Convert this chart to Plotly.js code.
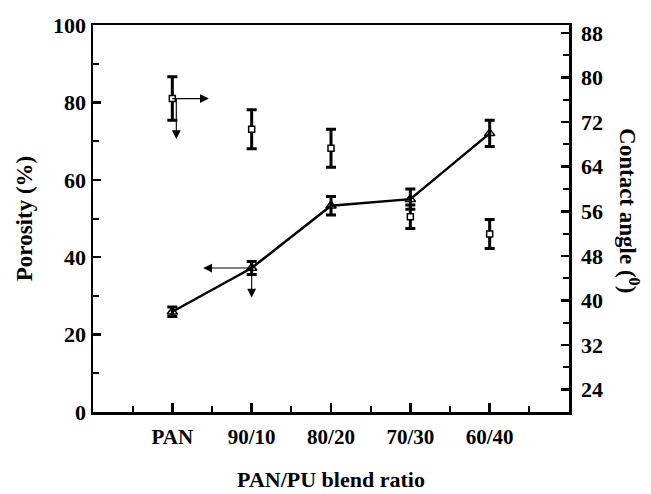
<!DOCTYPE html>
<html>
<head>
<meta charset="utf-8">
<script src="https://cdn.plot.ly/plotly-3.0.1.min.js"></script>
<style>html,body{margin:0;padding:0;background:#fff;}#chart{width:651px;height:494px;}</style>
</head>
<body>
<div id="chart"></div>
<script>
const categories = ["PAN", "90/10", "80/20", "70/30", "60/40"];
const porosity = [25.9, 37.2, 53.3, 55.0, 72.0];
const porosityErr = [1.2, 1.7, 2.4, 2.6, 3.4];
const contactAngle = [76.2, 70.7, 67.3, 55.0, 51.9];
const contactAngleErr = [3.9, 3.5, 3.4, 2.1, 2.6];
const leftTicks = [0, 20, 40, 60, 80, 100];
const rightTicks = [24, 32, 40, 48, 56, 64, 72, 80, 88];

const xIdx = categories.map((c, i) => i);
const F = "Liberation Serif, Times New Roman, serif";

const traces = [
  {
    x: xIdx, y: porosity, type: "scatter", mode: "lines+markers",
    line: {color: "#000", width: 2.5},
    marker: {symbol: "triangle-up-open", size: 9, color: "#000", line: {width: 1.5, color: "#000"}},
    error_y: {type: "data", array: porosityErr, visible: true, color: "#000", thickness: 3, width: 5},
    yaxis: "y", showlegend: false, hoverinfo: "none"
  },
  {
    x: xIdx, y: contactAngle, type: "scatter", mode: "markers",
    marker: {symbol: "square", size: 6, color: "#fff", line: {width: 1.5, color: "#000"}},
    error_y: {type: "data", array: contactAngleErr, visible: true, color: "#000", thickness: 3, width: 5},
    yaxis: "y2", showlegend: false, hoverinfo: "none"
  }
];

const arrowBase = {text: "", showarrow: true, arrowhead: 2, arrowsize: 1.6, arrowwidth: 1.1,
  startarrowhead: 2, startarrowsize: 1.6,
  arrowcolor: "#000", arrowside: "start", standoff: 0, startstandoff: 0, axref: "pixel", ayref: "pixel"};

const layout = {
  width: 651, height: 494,
  margin: {l: 93, r: 82, t: 25, b: 82},
  paper_bgcolor: "#fff", plot_bgcolor: "#fff",
  font: {family: F, color: "#000", size: 21},
  xaxis: {
    range: [-1, 5], tickmode: "array", tickvals: xIdx, ticktext: categories,
    ticks: "inside", ticklen: 9, tickwidth: 2.5, tickcolor: "#000",
    minor: {tick0: -0.5, dtick: 1, ticks: "inside", ticklen: 6, tickwidth: 2, tickcolor: "#000"},
    showline: true, linewidth: 2.5, linecolor: "#000", mirror: true,
    showgrid: false, zeroline: false, ticklabelstandoff: 4,
    tickfont: {family: F, size: 21, weight: "bold"},
    title: {text: "<b>PAN/PU blend ratio</b>", font: {family: F, size: 22}, standoff: 24}
  },
  yaxis: {
    range: [0, 100], tickmode: "array", tickvals: leftTicks,
    ticks: "inside", ticklen: 8, tickwidth: 2.5, tickcolor: "#000",
    minor: {tick0: 0, dtick: 10, ticks: "inside", ticklen: 6, tickwidth: 2, tickcolor: "#000"},
    showline: true, linewidth: 2.5, linecolor: "#000",
    showgrid: false, zeroline: false,
    tickfont: {family: F, size: 22, weight: "bold"},
    title: {text: "<b>Porosity (%)</b>", font: {family: F, size: 23}, standoff: 14}
  },
  yaxis2: {
    overlaying: "y", side: "right",
    range: [20, 89.4], tickmode: "array", tickvals: rightTicks,
    ticks: "inside", ticklen: 8, tickwidth: 2.5, tickcolor: "#000",
    minor: {tick0: 24, dtick: 4, ticks: "inside", ticklen: 6, tickwidth: 2, tickcolor: "#000"},
    showline: true, linewidth: 2.5, linecolor: "#000",
    showgrid: false, zeroline: false, ticklabelstandoff: 5,
    tickfont: {family: F, size: 22, weight: "bold"}
  },
  annotations: [
    {xref: "paper", yref: "paper", x: 1.16, y: 0.52, text: "<b>Contact angle (<sup>0</sup>)</b>",
     showarrow: false, textangle: 90, font: {family: F, size: 23}},
    Object.assign({}, arrowBase, {x: xIdx[0], y: contactAngle[0], xref: "x", yref: "y2", ax: 38, ay: 0}),
    Object.assign({}, arrowBase, {x: xIdx[0] + 0.05, y: contactAngle[0], xref: "x", yref: "y2", ax: 0, ay: 42}),
    Object.assign({}, arrowBase, {x: xIdx[1], y: porosity[1], xref: "x", yref: "y", ax: -50, ay: 0}),
    Object.assign({}, arrowBase, {x: xIdx[1], y: porosity[1], xref: "x", yref: "y", ax: 0, ay: 31})
  ]
};

Plotly.newPlot("chart", traces, layout, {displayModeBar: false, staticPlot: true});
</script>
</body>
</html>
